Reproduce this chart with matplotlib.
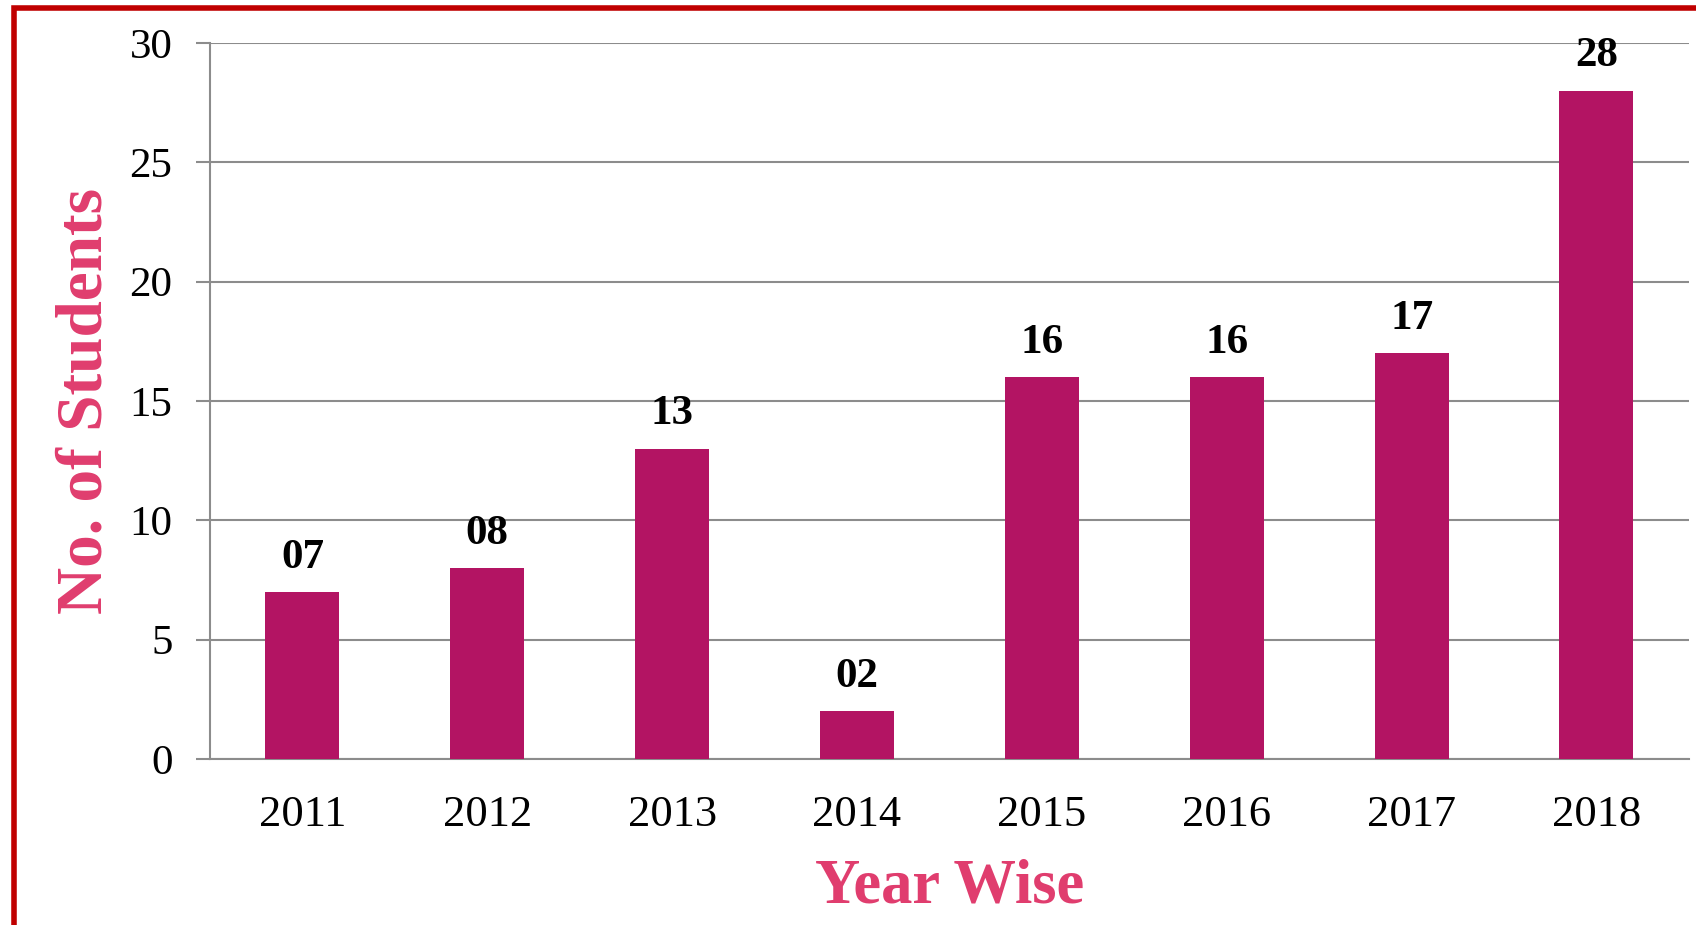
import matplotlib.pyplot as plt
from matplotlib.patches import Rectangle

# Data
years = ['2011', '2012', '2013', '2014', '2015', '2016', '2017', '2018']
students = [7, 8, 13, 2, 16, 16, 17, 28]
labels = ['07', '08', '13', '02', '16', '16', '17', '28']

plt.rcParams['font.family'] = ['Liberation Serif', 'DejaVu Serif']

fig = plt.figure(figsize=(16.96, 9.25), dpi=100)
ax = fig.add_axes([0.1238, 0.1795, 0.872, 0.774])

x = range(len(years))
bars = ax.bar(x, students, width=0.4, color='#B31463', zorder=3)
for b, lab in zip(bars, labels):
    ax.annotate(lab, (b.get_x() + b.get_width() / 2, b.get_height()),
                xytext=(0, 11), textcoords='offset points', ha='center', va='bottom',
                fontsize=31, fontweight='bold', color='black')

ax.set_xlim(-0.5, len(years) - 0.5)
ax.set_ylim(0, 30)
ax.set_yticks(range(0, 31, 5))
ax.set_xticks(list(x))
ax.set_xticklabels(years)
ax.tick_params(axis='y', length=10, width=1.5, color='#8C8C8C', labelsize=31, pad=17)
ax.tick_params(axis='x', length=0, labelsize=32, pad=26)
ax.grid(axis='y', color='#8C8C8C', linewidth=1.5, zorder=0)
for s in ['top', 'right']:
    ax.spines[s].set_visible(False)
for s in ['left', 'bottom']:
    ax.spines[s].set_color('#8C8C8C')
    ax.spines[s].set_linewidth(1.5)

ax.set_xlabel('Year Wise', fontsize=45, fontweight='bold', color='#E03D6E', labelpad=17)
ax.set_ylabel('No. of Students', fontsize=47, fontweight='bold', color='#E03D6E', labelpad=10)

# red frame around the chart
fig.patches.append(Rectangle((14 / 1696, -0.05), 1.1, 1 - 8 / 925 + 0.05,
                             transform=fig.transFigure, fill=False,
                             edgecolor='#C00000', linewidth=4))

fig.savefig('out.png', dpi=100)
